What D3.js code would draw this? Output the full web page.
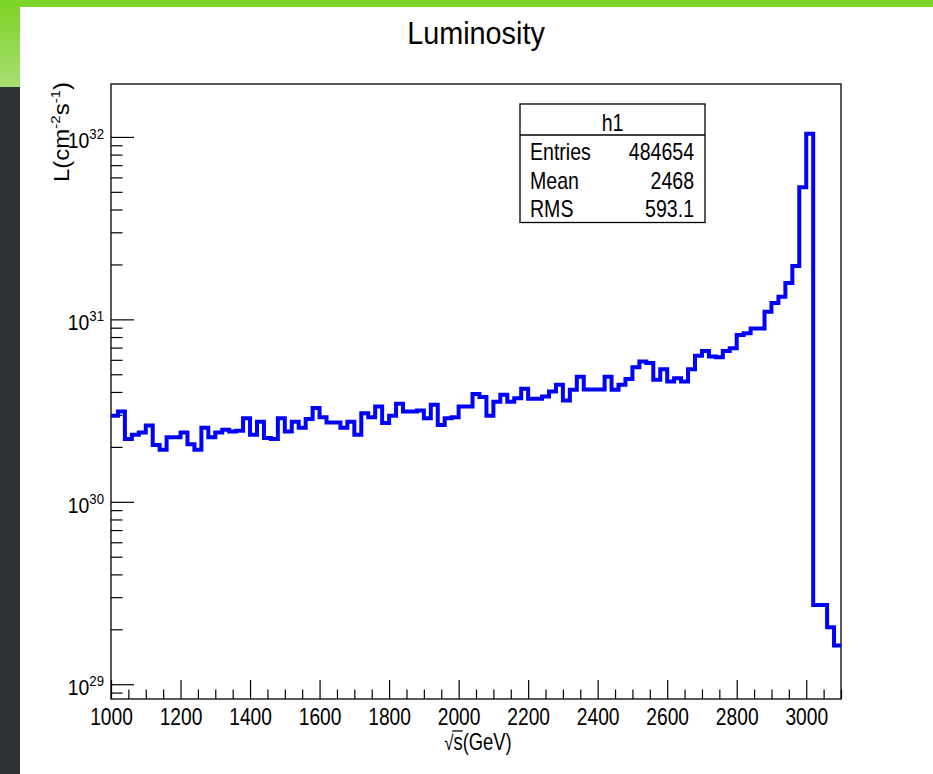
<!DOCTYPE html>
<html>
<head>
<meta charset="utf-8">
<script src="https://cdn.jsdelivr.net/npm/d3@7"></script>
<style>
  body { margin: 0; background: #fff; }
  svg { display: block; font-family: "Liberation Sans", Arial, sans-serif; }
</style>
</head>
<body>
<div id="chart"></div>
<script>
// histogram h1: 105 bins of 20 GeV from 1000 to 3100, values in units of 1e30 cm^-2 s^-1
var xMin = 1000, xMax = 3100, binWidth = 20;
var lumi = [
  2.96, 3.13, 2.21, 2.33, 2.40, 2.62, 2.05, 1.93, 2.26, 2.26,
  2.40, 2.07, 1.93, 2.55, 2.26, 2.40, 2.48, 2.43, 2.45, 2.87,
  2.33, 2.75, 2.24, 2.21, 2.87, 2.43, 2.75, 2.55, 2.84, 3.27,
  2.91, 2.72, 2.72, 2.55, 2.75, 2.33, 3.06, 2.91, 3.33, 2.70,
  2.96, 3.45, 3.13, 3.13, 3.17, 2.87, 3.40, 2.64, 2.87, 2.91,
  3.33, 3.33, 3.90, 3.75, 2.96, 3.54, 3.86, 3.54, 3.70, 4.16,
  3.67, 3.67, 3.78, 4.02, 4.38, 3.59, 4.11, 4.85, 4.13, 4.13,
  4.13, 4.85, 4.11, 4.38, 4.71, 5.47, 5.87, 5.76, 4.67, 5.33,
  4.57, 4.76, 4.57, 5.33, 6.31, 6.70, 6.26, 6.20, 6.70, 6.95,
  8.2, 8.4, 8.9, 8.9, 11.0, 12.3, 13.3, 15.8, 19.6, 52.9,
  104, 0.272, 0.272, 0.205, 0.163
];
var unit = 1e30;

var xMajor = [1000, 1200, 1400, 1600, 1800, 2000, 2200, 2400, 2600, 2800, 3000];
var yDecades = [1e29, 1e30, 1e31, 1e32];
var yExponents = ["29", "30", "31", "32"];

var statsLabels = ["Entries", "Mean", "RMS"];
var statsValues = ["484654", "2468", "593.1"];

var W = 933, H = 774;
var frame = {left: 111, right: 841, top: 84, bottom: 699};
var squeeze = 0.8;

var svg = d3.select("#chart").append("svg")
    .attr("width", W)
    .attr("height", H);

// slide decoration
var defs = svg.append("defs");
var grad = defs.append("linearGradient").attr("id", "sideGreen")
    .attr("x1", 0).attr("y1", 0).attr("x2", 0).attr("y2", 1);
grad.append("stop").attr("offset", "0%").attr("stop-color", "#80d22c");
grad.append("stop").attr("offset", "100%").attr("stop-color", "#a8df72");

svg.append("rect").attr("x", 0).attr("y", 0).attr("width", W).attr("height", 7).attr("fill", "#7ed52a");
svg.append("rect").attr("x", 0).attr("y", 7).attr("width", 20).attr("height", 80).attr("fill", "url(#sideGreen)");
svg.append("rect").attr("x", 0).attr("y", 87).attr("width", 20).attr("height", H - 87).attr("fill", "#2d3336");

var x = d3.scaleLinear().domain([xMin, xMax]).range([frame.left, frame.right]);
var y = d3.scaleLog().domain([8.3e28, 1.95e32]).range([frame.bottom, frame.top]);

// minor log ticks 2..9 x decade inside the domain
var yMinor = [];
[1e28, 1e29, 1e30, 1e31].forEach(function (d) {
    for (var m = 2; m <= 9; m++) {
        var v = m * d;
        if (v >= y.domain()[0] && v <= y.domain()[1]) yMinor.push(v);
    }
});
var xMinor = d3.range(xMin, xMax + 1, 50).filter(function (v) { return v % 200 !== 0; });

// x axis: minor and major ticks in their own groups
var gxMinor = svg.append("g").attr("transform", "translate(0," + frame.bottom + ")")
    .call(d3.axisBottom(x).tickValues(xMinor).tickSize(-9.5).tickFormat(""));
var gx = svg.append("g").attr("transform", "translate(0," + frame.bottom + ")")
    .call(d3.axisBottom(x).tickValues(xMajor).tickSize(-19).tickPadding(9).tickFormat(d3.format("d")));
svg.selectAll(".domain").remove();
gx.selectAll("text")
    .attr("fill", "#000")
    .style("font-size", "24px")
    .attr("transform", "scale(" + squeeze + ",1)");

// y axis
var gyMinor = svg.append("g").attr("transform", "translate(" + frame.left + ",0)")
    .call(d3.axisLeft(y).tickValues(yMinor).tickSize(-11.5).tickFormat(""));
var gy = svg.append("g").attr("transform", "translate(" + frame.left + ",0)")
    .call(d3.axisLeft(y).tickValues(yDecades).tickSize(-23).tickFormat(""));
svg.selectAll(".domain").remove();
svg.selectAll(".tick line").attr("stroke", "#000").attr("stroke-width", 1.2);

var ylab = svg.append("g").selectAll("text")
    .data(yDecades)
    .enter().append("text")
    .attr("text-anchor", "end")
    .attr("transform", function (d) { return "translate(104," + (y(d) + 11) + ") scale(0.88,1)"; })
    .attr("fill", "#000");
ylab.append("tspan").style("font-size", "22px").text("10");
ylab.append("tspan").style("font-size", "15px").attr("dy", -9)
    .text(function (d, i) { return yExponents[i]; });

// frame
svg.append("rect")
    .attr("x", frame.left).attr("y", frame.top)
    .attr("width", frame.right - frame.left)
    .attr("height", frame.bottom - frame.top)
    .attr("fill", "none").attr("stroke", "#000").attr("stroke-width", 1.3);

// histogram outline
var pts = lumi.map(function (v, i) { return [xMin + i * binWidth, v * unit]; });
pts.push([xMax, lumi[lumi.length - 1] * unit]);

defs.append("clipPath").attr("id", "frameClip")
    .append("rect")
    .attr("x", frame.left).attr("y", frame.top)
    .attr("width", frame.right - frame.left).attr("height", frame.bottom - frame.top);

var line = d3.line()
    .x(function (d) { return x(d[0]); })
    .y(function (d) { return y(d[1]); })
    .curve(d3.curveStepAfter);

svg.append("path")
    .datum(pts)
    .attr("clip-path", "url(#frameClip)")
    .attr("fill", "none")
    .attr("stroke", "#0000ff")
    .attr("stroke-width", 4)
    .attr("stroke-linejoin", "miter")
    .attr("d", line);

// title
svg.append("text")
    .attr("text-anchor", "middle")
    .attr("transform", "translate(476,44) scale(0.9,1)")
    .style("font-size", "32px")
    .attr("fill", "#000")
    .text("Luminosity");

// x axis title with radical sign, bar drawn over the "s"
var xtg = svg.append("g")
    .attr("transform", "translate(478,750) scale(" + squeeze + ",1)");
var xt = xtg.append("text")
    .attr("text-anchor", "middle")
    .style("font-size", "23px")
    .attr("fill", "#000");
xt.append("tspan").style("font-size", "21px").text("\u221A");
xt.append("tspan").text("s(GeV)");
var rad = xt.node().getExtentOfChar(0);
var sch = xt.node().getExtentOfChar(1);
xtg.append("line")
    .attr("x1", rad.x + rad.width - 1.5).attr("x2", sch.x + sch.width)
    .attr("y1", -19).attr("y2", -19)
    .attr("stroke", "#000").attr("stroke-width", 1.3);

// y axis title
var yt = svg.append("text")
    .attr("text-anchor", "end")
    .attr("transform", "translate(69,82) rotate(-90) scale(1,0.9)")
    .style("font-size", "24px")
    .attr("fill", "#000");
yt.append("tspan").text("L(cm");
yt.append("tspan").style("font-size", "15px").attr("dy", -10).text("-2");
yt.append("tspan").attr("dy", 10).text("s");
yt.append("tspan").style("font-size", "15px").attr("dy", -10).text("-1");
yt.append("tspan").attr("dy", 10).text(")");

// stats box
var box = {x: 520, y: 104, w: 185, h: 118.5, head: 31};
var sb = svg.append("g");
sb.append("rect")
    .attr("x", box.x).attr("y", box.y).attr("width", box.w).attr("height", box.h)
    .attr("fill", "#fff").attr("stroke", "#000").attr("stroke-width", 1.3);
sb.append("line")
    .attr("x1", box.x).attr("x2", box.x + box.w)
    .attr("y1", box.y + box.head).attr("y2", box.y + box.head)
    .attr("stroke", "#000").attr("stroke-width", 1.3);
sb.append("text")
    .attr("text-anchor", "middle")
    .attr("transform", "translate(" + (box.x + box.w / 2) + "," + (box.y + 27) + ") scale(0.85,1)")
    .style("font-size", "23px")
    .text("h1");
var rowY = d3.scaleLinear().domain([0, 2]).range([box.y + 56, box.y + 113]);
sb.selectAll(".slab").data(statsLabels).enter().append("text")
    .attr("class", "slab")
    .attr("transform", function (d, i) { return "translate(" + (box.x + 10) + "," + rowY(i) + ") scale(0.85,1)"; })
    .style("font-size", "23px")
    .text(function (d) { return d; });
sb.selectAll(".sval").data(statsValues).enter().append("text")
    .attr("class", "sval")
    .attr("text-anchor", "end")
    .attr("transform", function (d, i) { return "translate(" + (box.x + box.w - 11) + "," + rowY(i) + ") scale(0.85,1)"; })
    .style("font-size", "23px")
    .text(function (d) { return d; });
</script>
</body>
</html>
